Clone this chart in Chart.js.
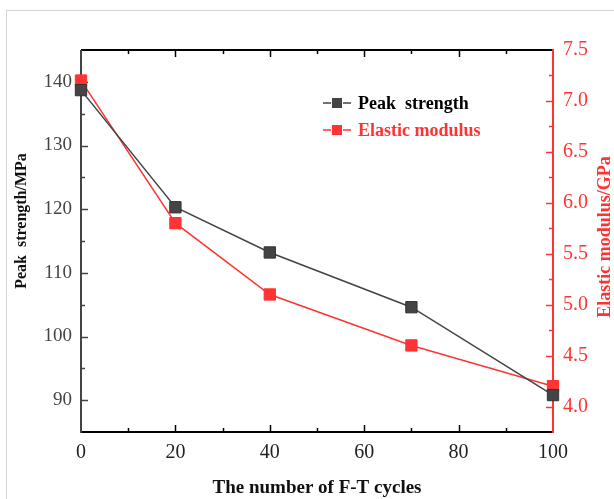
<!DOCTYPE html>
<html lang="en">
<head>
    <meta charset="UTF-8">
    <title>Peak strength and elastic modulus vs F-T cycles</title>
    <script src="https://cdn.jsdelivr.net/npm/chart.js"></script>
    <style>
        html, body { margin: 0; padding: 0; background: #fff; overflow: hidden; }
        #wrap { position: relative; width: 614px; height: 499px; }
        #frame { position: absolute; left: 6px; top: 10px; right: -5px; bottom: -5px; border: 1px solid #d4d4d4; pointer-events: none; }
        canvas { position: absolute; left: 0; top: 0; }
    </style>
</head>
<body>
<div id="wrap">
    <canvas id="chart" width="614" height="499"></canvas>
    <div id="frame"></div>
</div>
<script>
// data
const cycles = [0, 20, 40, 70, 100];
const peakStrength = [138.7, 120.3, 113.2, 104.6, 90.8];   // MPa
const elasticModulus = [7.2, 5.8, 5.1, 4.6, 4.2];          // GPa

const xTicks = [0, 20, 40, 60, 80, 100];
const leftTicks = [90, 100, 110, 120, 130, 140];
const rightTicks = [4.0, 4.5, 5.0, 5.5, 6.0, 6.5, 7.0, 7.5];

const BLACK = '#444444';
const RED = '#ff3333';
const SERIF = '"Liberation Serif", "Times New Roman", serif';

// axes frame with inward ticks + titles + legend
const framePlugin = {
    id: 'frame',
    beforeDatasetsDraw(chart) {
        const ctx = chart.ctx;
        const a = chart.chartArea;
        const xs = chart.scales.x, yl = chart.scales.y, yr = chart.scales.y1;
        ctx.save();
        ctx.lineCap = 'butt';

        // x ticks (bottom + top)
        ctx.strokeStyle = '#000';
        ctx.lineWidth = 1.5;
        for (let v = 10; v < 100; v += 10) {
            const x = Math.round(xs.getPixelForValue(v)) + 0.5;
            const len = v % 20 === 0 ? 7 : 4;
            ctx.beginPath();
            ctx.moveTo(x, a.bottom); ctx.lineTo(x, a.bottom - len);
            ctx.moveTo(x, a.top); ctx.lineTo(x, a.top + len);
            ctx.stroke();
        }
        // left ticks
        ctx.strokeStyle = BLACK;
        for (let v = 90; v < 145; v += 5) {
            const y = Math.round(yl.getPixelForValue(v)) + 0.5;
            const len = v % 10 === 0 ? 7 : 4;
            ctx.beginPath();
            ctx.moveTo(a.left, y); ctx.lineTo(a.left + len, y);
            ctx.stroke();
        }
        // right ticks
        ctx.strokeStyle = RED;
        for (let v = 4.0; v < 7.5; v += 0.25) {
            const y = Math.round(yr.getPixelForValue(v)) + 0.5;
            const len = Math.abs(v * 2 - Math.round(v * 2)) < 1e-6 ? 7 : 4;
            ctx.beginPath();
            ctx.moveTo(a.right, y); ctx.lineTo(a.right - len, y);
            ctx.stroke();
        }

        // axis lines
        ctx.lineWidth = 2;
        ctx.strokeStyle = '#000';
        ctx.beginPath();
        ctx.moveTo(a.left, a.top); ctx.lineTo(a.right, a.top);
        ctx.moveTo(a.left, a.bottom); ctx.lineTo(a.right, a.bottom);
        ctx.stroke();
        ctx.strokeStyle = BLACK;
        ctx.beginPath();
        ctx.moveTo(a.left, a.top); ctx.lineTo(a.left, a.bottom + 1);
        ctx.stroke();
        ctx.strokeStyle = RED;
        ctx.beginPath();
        ctx.moveTo(a.right, a.top - 1); ctx.lineTo(a.right, a.bottom + 1);
        ctx.stroke();
        ctx.restore();
    },
    afterDraw(chart) {
        const ctx = chart.ctx;
        const a = chart.chartArea;
        ctx.save();
        ctx.textAlign = 'center';
        ctx.textBaseline = 'middle';

        // x title
        ctx.fillStyle = '#111';
        ctx.font = 'bold 19px ' + SERIF;
        ctx.fillText('The number of F-T cycles', (a.left + a.right) / 2, 488);

        // left title
        ctx.save();
        ctx.translate(22, 221);
        ctx.rotate(-Math.PI / 2);
        ctx.font = 'bold 16px ' + SERIF;
        ctx.fillText('Peak  strength/MPa', 0, 0);
        ctx.restore();

        // right title
        ctx.save();
        ctx.translate(605, 237);
        ctx.rotate(-Math.PI / 2);
        ctx.fillStyle = RED;
        ctx.font = 'bold 18px ' + SERIF;
        ctx.fillText('Elastic modulus/GPa', 0, 0);
        ctx.restore();

        // legend
        const rows = [
            { text: 'Peak  strength', color: BLACK, textColor: '#000', y: 103 },
            { text: 'Elastic modulus', color: RED, textColor: RED, y: 130 }
        ];
        rows.forEach(r => {
            ctx.strokeStyle = r.color;
            ctx.lineWidth = 1.5;
            ctx.beginPath();
            ctx.moveTo(323, r.y); ctx.lineTo(331, r.y);
            ctx.moveTo(343, r.y); ctx.lineTo(351, r.y);
            ctx.stroke();
            ctx.fillStyle = r.color;
            ctx.fillRect(332, r.y - 5, 10, 10);
            ctx.fillStyle = r.textColor;
            ctx.textAlign = 'left';
            ctx.font = 'bold 18px ' + SERIF;
            ctx.fillText(r.text, 358, r.y + 1);
        });
        ctx.restore();
    }
};

const ctx = document.getElementById('chart').getContext('2d');
const chart = new Chart(ctx, {
    type: 'line',
    data: {
        datasets: [
            {
                label: 'Peak  strength',
                data: cycles.map((c, i) => ({ x: c, y: peakStrength[i] })),
                yAxisID: 'y',
                borderColor: BLACK,
                backgroundColor: BLACK,
                pointBorderColor: '#333',
                borderWidth: 1.5,
                pointStyle: 'rect',
                pointRadius: 8,
                pointBorderWidth: 1,
                tension: 0,
                clip: false,
                order: 1
            },
            {
                label: 'Elastic modulus',
                data: cycles.map((c, i) => ({ x: c, y: elasticModulus[i] })),
                yAxisID: 'y1',
                borderColor: RED,
                backgroundColor: RED,
                pointBorderColor: RED,
                borderWidth: 1.5,
                pointStyle: 'rect',
                pointRadius: 8,
                pointBorderWidth: 1,
                tension: 0,
                clip: false,
                order: 2
            }
        ]
    },
    options: {
        responsive: false,
        animation: false,
        layout: { padding: { top: 50, left: 0, right: 0, bottom: 0 } },
        plugins: { legend: { display: false }, tooltip: { enabled: false } },
        scales: {
            x: {
                type: 'linear',
                min: 0,
                max: 100,
                afterBuildTicks: s => { s.ticks = xTicks.map(v => ({ value: v })); },
                afterFit: s => { s.height = 67; },
                grid: { display: false, tickLength: 0 },
                border: { display: false },
                ticks: { color: '#222', padding: 9, font: { family: SERIF, size: 20 } }
            },
            y: {
                type: 'linear',
                position: 'left',
                min: 85,
                max: 145,
                afterBuildTicks: s => { s.ticks = leftTicks.map(v => ({ value: v })); },
                afterFit: s => { s.width = 81; },
                grid: { display: false, tickLength: 0 },
                border: { display: false },
                ticks: { color: '#444', padding: 9, font: { family: SERIF, size: 19 } }
            },
            y1: {
                type: 'linear',
                position: 'right',
                min: 3.75,
                max: 7.5,
                afterBuildTicks: s => { s.ticks = rightTicks.map(v => ({ value: v })); },
                afterFit: s => { s.width = 61; },
                grid: { display: false, tickLength: 0 },
                border: { display: false },
                ticks: {
                    color: RED,
                    padding: 10,
                    font: { family: SERIF, size: 20 },
                    callback: v => Number(v).toFixed(1)
                }
            }
        }
    },
    plugins: [framePlugin]
});
</script>
</body>
</html>
